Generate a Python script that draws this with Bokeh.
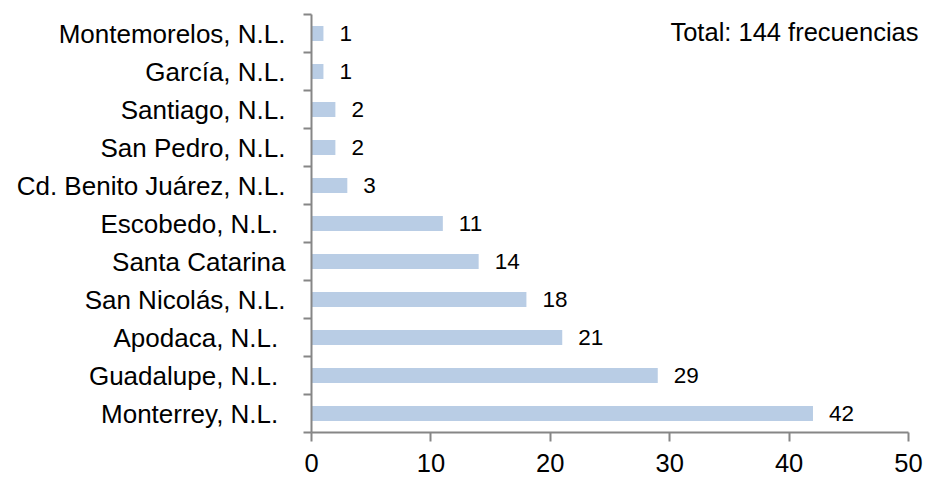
from bokeh.plotting import figure
from bokeh.models import ColumnDataSource, FixedTicker, Label
from bokeh.core.properties import value
from bokeh.embed import file_html
from bokeh.resources import INLINE

# Data (bottom to top)
municipios = ["Monterrey, N.L.\u00a0", "Guadalupe, N.L.\u00a0", "Apodaca, N.L.\u00a0",
              "San Nicolás, N.L.", "Santa Catarina", "Escobedo, N.L.\u00a0",
              "Cd. Benito Juárez, N.L.", "San Pedro, N.L.", "Santiago, N.L.",
              "García, N.L.", "Montemorelos, N.L."]
frecuencias = [42, 29, 21, 18, 14, 11, 3, 2, 2, 1, 1]
x_ticks = [0, 10, 20, 30, 40, 50]
x_max = 50
total_text = "Total: 144 frecuencias"

pos = list(range(len(municipios)))
src = ColumnDataSource(dict(y=pos, v=frecuencias, lbl=[str(v) for v in frecuencias]))

FONT = "Liberation Sans"
AX = "#868686"

W, H = 934, 479
LEFT, RIGHT_AXIS_END, TOP, BOTTOM = 311, 908, 14, 432
px_per_unit = (RIGHT_AXIS_END - LEFT) / x_max
x_end = x_max + (W - RIGHT_AXIS_END) / px_per_unit

p = figure(width=W, height=H, output_backend="svg", toolbar_location=None,
           x_range=(0, x_end), y_range=(-0.5, len(municipios) - 0.5),
           min_border_left=LEFT, min_border_right=0, min_border_top=TOP,
           min_border_bottom=H - BOTTOM)
p.outline_line_color = None
p.grid.grid_line_color = None
p.background_fill_color = "white"
p.border_fill_color = "white"

p.hbar(y="y", right="v", left=0, height=0.4, source=src, fill_color="#B9CDE5", line_color=None)
p.text(x="v", y="y", text="lbl", source=src, x_offset=16, text_baseline="middle",
       text_align="left", text_font=value(FONT), text_font_size="22.5px", text_color="black")

# x axis
p.xaxis.bounds = (0, x_max)
p.xaxis.ticker = FixedTicker(ticks=x_ticks)
p.xaxis.axis_line_color = AX
p.xaxis.axis_line_width = 2
p.xaxis.major_tick_line_color = AX
p.xaxis.major_tick_line_width = 2
p.xaxis.major_tick_out = 9
p.xaxis.major_tick_in = 0
p.xaxis.minor_tick_line_color = None
p.xaxis.major_label_text_font = FONT
p.xaxis.major_label_text_font_size = "25.5px"
p.xaxis.major_label_text_color = "black"
p.xaxis.major_label_standoff = 12

# y axis: labels at centers, ticks at boundaries
p.yaxis.ticker = FixedTicker(ticks=pos, minor_ticks=[i - 0.5 for i in range(len(municipios) + 1)])
p.yaxis.major_label_overrides = {i: m for i, m in enumerate(municipios)}
p.yaxis.axis_line_color = AX
p.yaxis.axis_line_width = 2
p.yaxis.major_tick_line_color = None
p.yaxis.major_tick_out = 0
p.yaxis.major_tick_in = 0
p.yaxis.minor_tick_line_color = AX
p.yaxis.minor_tick_line_width = 2
p.yaxis.minor_tick_out = 8
p.yaxis.minor_tick_in = 0
p.yaxis.major_label_text_font = FONT
p.yaxis.major_label_text_font_size = "26px"
p.yaxis.major_label_text_color = "black"
p.yaxis.major_label_standoff = 18

p.add_layout(Label(x=x_max, y=10.05, x_offset=10, text=total_text, text_align="right",
                   text_baseline="alphabetic", text_font=FONT, text_font_size="25.5px",
                   text_color="black"))

open("out.html", "w").write(file_html(p, INLINE))
